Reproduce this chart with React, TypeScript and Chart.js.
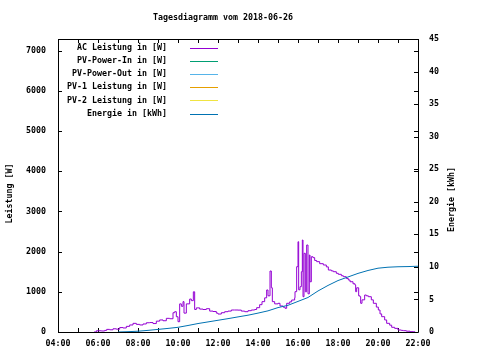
import React, { useEffect, useRef } from "react";
import { Chart, registerables } from "chart.js";
Chart.register(...registerables);

const chartTitle = "Tagesdiagramm vom 2018-06-26";
const leftAxisTitle = "Leistung [W]";
const rightAxisTitle = "Energie [kWh]";
const seriesNames = [
  "AC Leistung in [W]",
  "PV-Power-In in [W]",
  "PV-Power-Out in [W]",
  "PV-1 Leistung in [W]",
  "PV-2 Leistung in [W]",
  "Energie in [kWh]",
];
const seriesColors = ["#9400d3", "#009e73", "#56b4e9", "#e69f00", "#f0e442", "#0072b2"];

const acTimes = [
  "05:48", "05:55", "06:00", "06:10", "06:20", "06:26", "06:35", "06:45", "06:55", "07:05",
  "07:15", "07:25", "07:35", "07:45", "07:55", "08:05", "08:15", "08:25", "08:35", "08:45",
  "08:55", "09:05", "09:15", "09:25", "09:35", "09:45", "09:50", "09:55", "10:00", "10:05",
  "10:10", "10:15", "10:18", "10:25", "10:35", "10:40", "10:46", "10:50", "10:55", "11:05",
  "11:15", "11:25", "11:35", "11:45", "11:55", "12:00", "12:10", "12:20", "12:30", "12:40",
  "12:50", "13:00", "13:10", "13:20", "13:30", "13:40", "13:50", "13:56", "14:05", "14:12",
  "14:20", "14:26", "14:30", "14:36", "14:40", "14:43", "14:50", "15:00", "15:06", "15:15",
  "15:21", "15:26", "15:35", "15:41", "15:50", "15:51", "15:56", "16:00", "16:02", "16:06",
  "16:10", "16:13", "16:15", "16:18", "16:22", "16:26", "16:30", "16:34", "16:36", "16:40",
  "16:45", "16:50", "16:56", "17:05", "17:16", "17:25", "17:31", "17:40", "17:46", "17:55",
  "18:01", "18:10", "18:16", "18:25", "18:31", "18:36", "18:45", "18:51", "18:53", "18:56",
  "19:02", "19:06", "19:08", "19:12", "19:20", "19:25", "19:31", "19:40", "19:46", "19:55",
  "20:01", "20:06", "20:11", "20:20", "20:26", "20:35", "20:41", "20:50", "21:00", "21:10",
  "21:16", "21:25", "21:36", "21:45", "21:51",
];
const acValues = [
  0, 30, 30, 25, 40, 65, 55, 80, 70, 110,
  100, 140, 175, 215, 190, 175, 200, 230, 235, 210,
  270, 300, 280, 340, 330, 480, 505, 380, 256, 700,
  640, 755, 470, 700, 820, 780, 1000, 560, 600, 570,
  560, 580, 520, 510, 470, 447, 480, 505, 520, 547,
  547, 545, 520, 505, 530, 547, 560, 605, 680, 755,
  850, 1045, 900, 1517, 1100, 755, 700, 714, 647, 620,
  590, 714, 750, 796, 850, 1003, 1625, 2246, 1050, 1127,
  1500, 2289, 878, 1958, 1000, 2164, 950, 1915, 1250, 1873,
  1850, 1780, 1750, 1700, 1667, 1620, 1542, 1520, 1500, 1460,
  1435, 1400, 1376, 1330, 1294, 1251, 1200, 1169, 1003, 1100,
  900, 878, 714, 800, 920, 900, 878, 800, 714, 620,
  547, 450, 381, 300, 216, 170, 117, 90, 50, 40,
  33, 20, 8, 5, 0,
];

const energyTimes = [
  "07:00", "07:30", "08:00", "08:30", "09:00", "09:30", "10:00", "10:30", "11:00", "11:30",
  "12:00", "12:30", "13:00", "13:30", "14:00", "14:30", "15:00", "15:30", "16:00", "16:30",
  "17:00", "17:30", "18:00", "18:30", "19:00", "19:30", "20:00", "20:30", "21:00", "21:30",
  "22:00",
];
const energyValues = [
  0, 0.05, 0.12, 0.25, 0.4, 0.55, 0.72, 1.0, 1.3, 1.55,
  1.8, 2.05, 2.32, 2.58, 2.9, 3.25, 3.75, 4.1, 4.7, 5.3,
  6.3, 7.15, 7.9, 8.45, 9.0, 9.45, 9.8, 9.95, 10.02, 10.05,
  10.1,
];

const xTickLabels = ["04:00", "06:00", "08:00", "10:00", "12:00", "14:00", "16:00", "18:00", "20:00", "22:00"];
const leftTicks = [0, 1000, 2000, 3000, 4000, 5000, 6000, 7000];
const rightTicks = [0, 5, 10, 15, 20, 25, 30, 35, 40, 45];
const leftMax = 7290;
const rightMax = 45;
const xMin = 4;
const xMax = 22;

const toHours = (t: string) => {
  const [h, m] = t.split(":").map(Number);
  return h + m / 60;
};

const FONT = "DejaVu Sans Mono";
const FS = 8.3;

const gnuplotPlugin = {
  id: "gnuplotDecor",
  beforeDatasetsDraw(chart: any) {
    const { ctx, chartArea } = chart;
    const { left, right, top, bottom } = chartArea;
    const x = chart.scales.x;
    const yl = chart.scales.y;
    const yr = chart.scales.y2;
    ctx.save();
    ctx.strokeStyle = "#000";
    ctx.lineWidth = 1;
    ctx.beginPath();
    ctx.rect(Math.round(left) + 0.5, Math.round(top) + 0.5, Math.round(right - left), Math.round(bottom - top));
    ctx.stroke();
    const tl = 4;
    ctx.beginPath();
    for (let h = xMin; h <= xMax; h++) {
      const px = Math.round(x.getPixelForValue(h)) + 0.5;
      ctx.moveTo(px, bottom);
      ctx.lineTo(px, bottom - tl);
      ctx.moveTo(px, top);
      ctx.lineTo(px, top + tl);
    }
    for (const v of leftTicks) {
      const py = Math.round(yl.getPixelForValue(v)) + 0.5;
      ctx.moveTo(left, py);
      ctx.lineTo(left + tl, py);
      ctx.moveTo(right, py);
      ctx.lineTo(right - tl, py);
    }
    for (const v of rightTicks) {
      const py = Math.round(yr.getPixelForValue(v)) + 0.5;
      ctx.moveTo(right, py);
      ctx.lineTo(right - tl, py);
    }
    ctx.stroke();
    ctx.restore();
  },
  afterDraw(chart: any) {
    const { ctx, chartArea } = chart;
    const { left, right, top, bottom } = chartArea;
    ctx.save();
    ctx.fillStyle = "#000";
    ctx.font = `bold ${FS}px "${FONT}"`;
    ctx.textBaseline = "middle";
    ctx.textAlign = "center";
    ctx.fillText(chartTitle, left + 165, 18);

    ctx.save();
    ctx.translate(left - 48, (top + bottom) / 2 + 8);
    ctx.rotate(-Math.PI / 2);
    ctx.fillText(leftAxisTitle, 0, 0);
    ctx.restore();
    ctx.save();
    ctx.translate(right + 34, (top + bottom) / 2 + 14);
    ctx.rotate(-Math.PI / 2);
    ctx.fillText(rightAxisTitle, 0, 0);
    ctx.restore();

    chart.data.datasets.forEach((ds: any, i: number) => {
      const y = top + 9 + i * 13.1;
      ctx.textAlign = "right";
      ctx.fillStyle = "#000";
      ctx.fillText(ds.label, left + 109, y);
      ctx.strokeStyle = ds.borderColor;
      ctx.lineWidth = 1;
      ctx.beginPath();
      const yy = Math.round(y) + 0.5;
      ctx.moveTo(left + 132, yy);
      ctx.lineTo(left + 160, yy);
      ctx.stroke();
    });
    ctx.restore();
  },
};

export default function App() {
  const ref = useRef<HTMLCanvasElement>(null);
  useEffect(() => {
    if (!ref.current) return;
    const acData = acTimes.map((t, i) => ({ x: toHours(t), y: acValues[i] }));
    const enData = energyTimes.map((t, i) => ({ x: toHours(t), y: energyValues[i] }));
    const datasets = seriesNames.map((name, i) => ({
      label: name,
      data: i === 0 ? acData : i === 5 ? enData : [],
      borderColor: seriesColors[i],
      backgroundColor: seriesColors[i],
      borderWidth: 1,
      pointRadius: 0,
      fill: false,
      stepped: i === 0 ? true : false,
      yAxisID: i === 5 ? "y2" : "y",
      order: i === 5 ? 0 : 1,
    }));
    const tickFont = { family: FONT, size: FS, weight: "bold" as const };
    const chart = new Chart(ref.current, {
      type: "line",
      data: { datasets: datasets as any },
      options: {
        animation: false,
        responsive: false,
        devicePixelRatio: 1,
        layout: { padding: { top: 39, left: 0, right: 0, bottom: 0 } },
        plugins: { legend: { display: false }, title: { display: false }, tooltip: { enabled: false } },
        scales: {
          x: {
            type: "linear",
            min: xMin,
            max: xMax,
            afterBuildTicks: (s: any) => {
              s.ticks = xTickLabels.map((l) => ({ value: toHours(l) }));
            },
            afterFit: (s: any) => {
              s.height = 28;
            },
            ticks: {
              color: "#000",
              font: tickFont,
              padding: 7,
              maxRotation: 0,
              autoSkip: false,
              callback: (v: any) => xTickLabels.find((l) => toHours(l) === v) ?? "",
            },
            grid: { display: false, drawTicks: false },
            border: { display: false },
          },
          y: {
            type: "linear",
            position: "left",
            min: 0,
            max: leftMax,
            afterBuildTicks: (s: any) => {
              s.ticks = leftTicks.map((v) => ({ value: v }));
            },
            afterFit: (s: any) => {
              s.width = 58;
            },
            ticks: { color: "#000", font: tickFont, padding: 12, callback: (v: any) => String(v) },
            grid: { display: false, drawTicks: false },
            border: { display: false },
          },
          y2: {
            type: "linear",
            position: "right",
            min: 0,
            max: rightMax,
            afterBuildTicks: (s: any) => {
              s.ticks = rightTicks.map((v) => ({ value: v }));
            },
            afterFit: (s: any) => {
              s.width = 62;
            },
            ticks: { color: "#000", font: tickFont, padding: 11, callback: (v: any) => String(v) },
            grid: { display: false, drawTicks: false },
            border: { display: false },
          },
        },
      },
      plugins: [gnuplotPlugin],
    });
    return () => chart.destroy();
  }, []);
  return (
    <div style={{ position: "absolute", left: 0, top: 0, width: 480, height: 360, background: "#fff" }}>
      <canvas ref={ref} width={480} height={360} />
    </div>
  );
}
